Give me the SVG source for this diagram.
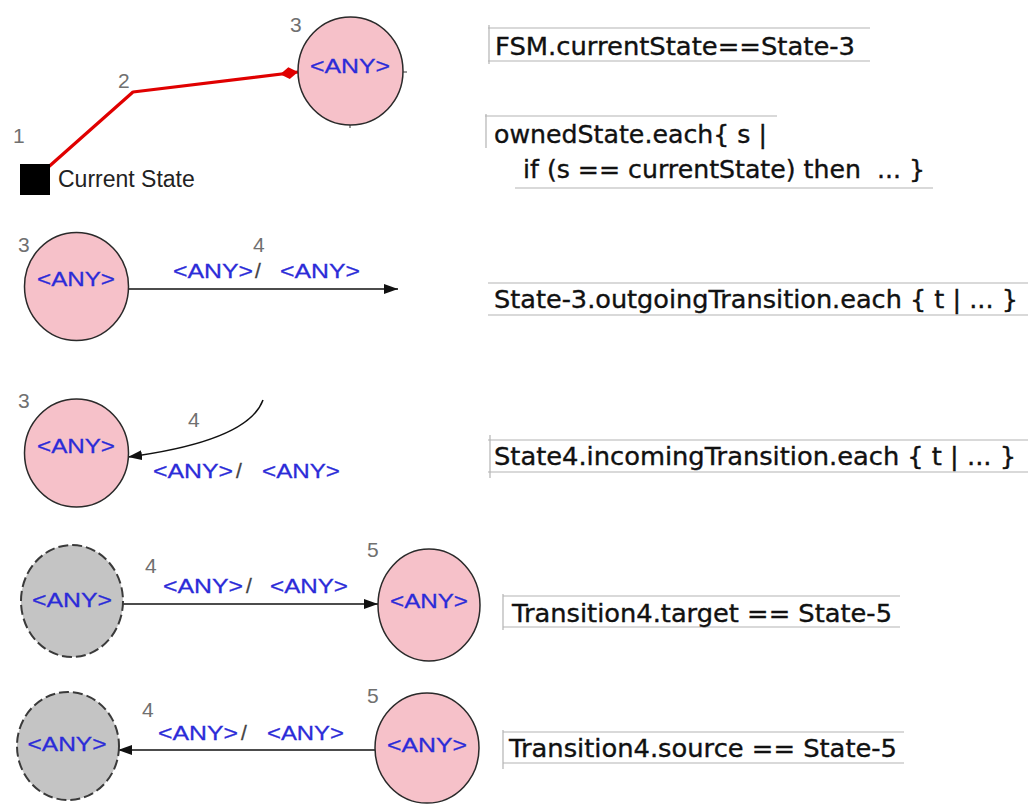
<svg xmlns="http://www.w3.org/2000/svg" width="1028" height="805" viewBox="0 0 1028 805">
  <style>
    .state { fill: #f6c1c9; stroke: #2a2a2a; stroke-width: 1.5; }
    .ghost { fill: #c4c4c4; stroke: #3a3a3a; stroke-width: 2; stroke-dasharray: 10 4; }
    .any { font-family: "Liberation Sans", Arial, sans-serif; font-size: 21px; fill: #2b2bd8; stroke: #2b2bd8; stroke-width: 0.3; }
    .elabel { font-family: "Liberation Sans", Arial, sans-serif; font-size: 21px; fill: #2b2bd8; stroke: #2b2bd8; stroke-width: 0.3; }
    .slash { fill: #444; stroke: #444; }
    .num { font-family: "Liberation Sans", Arial, sans-serif; font-size: 21px; fill: #707070; }
    .code { font-family: "DejaVu Sans", Verdana, sans-serif; font-size: 24px; fill: #111; stroke: #111; stroke-width: 0.35; }
    .rule { stroke: #b4b4b4; stroke-width: 1.2; fill: none; }
    .edge { stroke: #111; stroke-width: 1.5; fill: none; }
  </style>
  <defs>
    <marker id="arrow" viewBox="0 0 14 10" refX="14" refY="5" markerWidth="14" markerHeight="10" markerUnits="userSpaceOnUse" orient="auto">
      <path d="M0,0 L14,5 L0,10 z" fill="#111"/>
    </marker>
    <marker id="diamond" viewBox="0 0 18 12" refX="18" refY="6" markerWidth="18" markerHeight="12" markerUnits="userSpaceOnUse" orient="auto">
      <path d="M0,6 L9,0 L18,6 L9,12 z" fill="#e00000"/>
    </marker>
  </defs>

  <rect width="1028" height="805" fill="#ffffff"/>

  <!-- connectors -->
  <g id="connectors">
    <polyline points="36,178 133,92 298,72" fill="none" stroke="#e00000" stroke-width="3.2" stroke-linejoin="round" marker-end="url(#diamond)"/>
    <line class="edge" x1="128" y1="289" x2="398" y2="289" marker-end="url(#arrow)"/>
    <path class="edge" d="M263,400 Q248,441 128,457" marker-end="url(#arrow)"/>
    <line class="edge" x1="123" y1="604" x2="378" y2="604" marker-end="url(#arrow)"/>
    <line class="edge" x1="375" y1="750" x2="118" y2="750" marker-end="url(#arrow)"/>
  </g>

  <!-- row 1: current state pointer -->
  <g id="initial">
    <rect x="20" y="164" width="30" height="31" fill="#000"/>
    <text x="58" y="187" font-family="Liberation Sans, Arial, sans-serif" font-size="23" fill="#222">Current State</text>
  </g>
  <g id="state-top">
    <ellipse class="state" cx="350.5" cy="71" rx="52.5" ry="54"/>
    <line x1="403" y1="72" x2="407" y2="72" stroke="#333" stroke-width="1"/>
    <line x1="350" y1="125" x2="350" y2="128" stroke="#333" stroke-width="1"/>
    <text class="any" x="350" y="73" text-anchor="middle" textLength="80" lengthAdjust="spacingAndGlyphs">&lt;ANY&gt;</text>
  </g>
  <g id="numbers-top">
    <text class="num" x="290" y="32">3</text>
    <text class="num" x="118" y="88">2</text>
    <text class="num" x="13" y="143">1</text>
  </g>

  <!-- row 2: outgoing -->
  <g id="state-out">
    <ellipse class="state" cx="76.5" cy="286.5" rx="52" ry="54"/>
    <text class="any" x="76" y="286" text-anchor="middle" textLength="78" lengthAdjust="spacingAndGlyphs">&lt;ANY&gt;</text>
    <text class="num" x="18" y="252">3</text>
  </g>
  <g id="label-out">
    <text class="num" x="253" y="252">4</text>
    <text class="elabel" x="173" y="278" textLength="80" lengthAdjust="spacingAndGlyphs">&lt;ANY&gt;</text>
    <text class="elabel slash" x="255" y="278">/</text>
    <text class="elabel" x="280" y="278" textLength="80" lengthAdjust="spacingAndGlyphs">&lt;ANY&gt;</text>
  </g>

  <!-- row 3: incoming -->
  <g id="state-in">
    <ellipse class="state" cx="76.5" cy="453" rx="52" ry="54"/>
    <text class="any" x="76" y="453" text-anchor="middle" textLength="78" lengthAdjust="spacingAndGlyphs">&lt;ANY&gt;</text>
    <text class="num" x="18" y="408">3</text>
  </g>
  <g id="label-in">
    <text class="num" x="188" y="427">4</text>
    <text class="elabel" x="153" y="478" textLength="80" lengthAdjust="spacingAndGlyphs">&lt;ANY&gt;</text>
    <text class="elabel slash" x="236" y="478">/</text>
    <text class="elabel" x="262" y="478" textLength="78" lengthAdjust="spacingAndGlyphs">&lt;ANY&gt;</text>
  </g>

  <!-- row 4: target -->
  <g id="state-src-a">
    <ellipse class="ghost" cx="72" cy="601" rx="51" ry="56"/>
    <text class="any" x="72" y="607" text-anchor="middle" textLength="80" lengthAdjust="spacingAndGlyphs">&lt;ANY&gt;</text>
  </g>
  <g id="state-5a">
    <ellipse class="state" cx="429" cy="605" rx="51" ry="56"/>
    <text class="any" x="429" y="608" text-anchor="middle" textLength="78" lengthAdjust="spacingAndGlyphs">&lt;ANY&gt;</text>
    <text class="num" x="367" y="557">5</text>
  </g>
  <g id="label-target">
    <text class="num" x="145" y="573">4</text>
    <text class="elabel" x="163" y="593" textLength="80" lengthAdjust="spacingAndGlyphs">&lt;ANY&gt;</text>
    <text class="elabel slash" x="246" y="593">/</text>
    <text class="elabel" x="270" y="593" textLength="78" lengthAdjust="spacingAndGlyphs">&lt;ANY&gt;</text>
  </g>

  <!-- row 5: source -->
  <g id="state-tgt-b">
    <ellipse class="ghost" cx="68" cy="746" rx="51" ry="54"/>
    <text class="any" x="67" y="751" text-anchor="middle" textLength="79" lengthAdjust="spacingAndGlyphs">&lt;ANY&gt;</text>
  </g>
  <g id="state-5b">
    <ellipse class="state" cx="427" cy="748" rx="52" ry="55"/>
    <text class="any" x="427" y="752" text-anchor="middle" textLength="80" lengthAdjust="spacingAndGlyphs">&lt;ANY&gt;</text>
    <text class="num" x="367" y="703">5</text>
  </g>
  <g id="label-source">
    <text class="num" x="142" y="717">4</text>
    <text class="elabel" x="158" y="740" textLength="80" lengthAdjust="spacingAndGlyphs">&lt;ANY&gt;</text>
    <text class="elabel slash" x="241" y="740">/</text>
    <text class="elabel" x="267" y="740" textLength="77" lengthAdjust="spacingAndGlyphs">&lt;ANY&gt;</text>
  </g>

  <!-- expressions -->
  <g id="expr-current">
    <path class="rule" d="M488,28 H870 M488,61 H870 M489,25 V64"/>
    <text class="code" x="495" y="55" textLength="360" lengthAdjust="spacingAndGlyphs">FSM.currentState==State-3</text>
  </g>
  <g id="expr-owned">
    <path class="rule" d="M485,116 H777 M515,188 H933 M486,114 V148"/>
    <text class="code" x="494" y="143" textLength="273" lengthAdjust="spacingAndGlyphs">ownedState.each{ s |</text>
    <text class="code" x="523" y="178" textLength="402" lengthAdjust="spacingAndGlyphs" xml:space="preserve">if (s == currentState) then  ... }</text>
  </g>
  <g id="expr-outgoing">
    <path class="rule" d="M488,283 H1028 M488,315 H1028"/>
    <text class="code" x="494" y="308" textLength="524" lengthAdjust="spacingAndGlyphs">State-3.outgoingTransition.each { t | ... }</text>
  </g>
  <g id="expr-incoming">
    <path class="rule" d="M488,440 H1028 M488,472 H1028 M490,435 V478"/>
    <text class="code" x="494" y="465" textLength="522" lengthAdjust="spacingAndGlyphs">State4.incomingTransition.each { t | ... }</text>
  </g>
  <g id="expr-target">
    <path class="rule" d="M503,596 H900 M503,627 H900 M503,594 V630"/>
    <text class="code" x="512" y="622" textLength="380" lengthAdjust="spacingAndGlyphs">Transition4.target == State-5</text>
  </g>
  <g id="expr-source">
    <path class="rule" d="M503,732 H904 M503,763 H904 M503,730 V769"/>
    <text class="code" x="509" y="757" textLength="388" lengthAdjust="spacingAndGlyphs">Transition4.source == State-5</text>
  </g>
</svg>
